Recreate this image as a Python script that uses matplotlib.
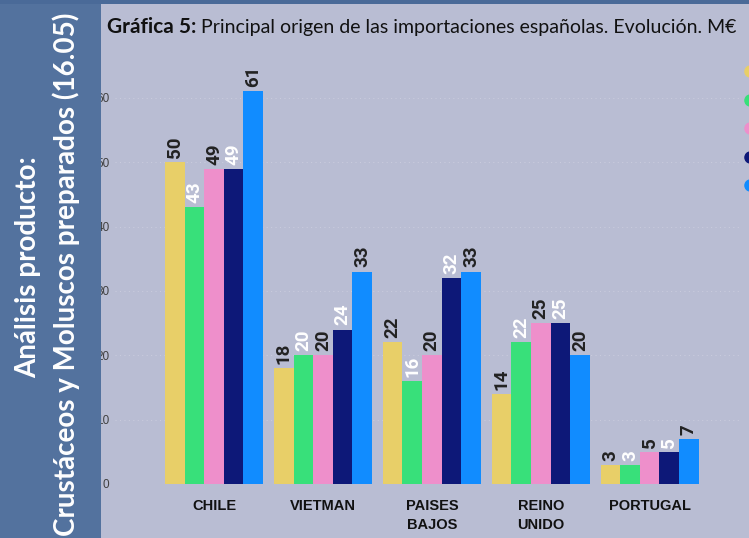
import matplotlib.pyplot as plt
import numpy as np
from matplotlib.lines import Line2D
from matplotlib.patches import Rectangle

countries = ['CHILE', 'VIETMAN', 'PAISES\nBAJOS', 'REINO\nUNIDO', 'PORTUGAL']
years = ['2019', '2020', '2021', '2022', '2023']
values = {
    '2019': [50, 18, 22, 14, 3],
    '2020': [43, 20, 16, 22, 3],
    '2021': [49, 20, 20, 25, 5],
    '2022': [49, 24, 32, 25, 5],
    '2023': [61, 33, 33, 20, 7],
}
y_ticks = [0, 10, 20, 30, 40, 50, 60]

colors = ['#E8CF68', '#38E07A', '#EE8FCB', '#0D1878', '#118CFF']
label_colors = ['#222222', 'white', '#222222', 'white', '#222222']
bg = '#B9BDD3'
panel = '#53729E'

W, H = 749, 538
fig = plt.figure(figsize=(W / 100, H / 100), dpi=100, facecolor=bg)


def px(x, y):
    # pixel coords (from top-left) -> figure fraction
    return x / W, 1 - y / H


ax = fig.add_axes([115 / W, (H - 484) / H, (740 - 115) / W, (484 - 40) / H])
ax.set_facecolor(bg)

n = len(years)
width = 0.9 / n
x = np.arange(len(countries))
for i, yr in enumerate(years):
    bars = ax.bar(x + (i - (n - 1) / 2) * width, values[yr], width,
                  color=colors[i], zorder=2)
    ax.bar_label(bars, labels=[str(v) for v in values[yr]], padding=3,
                 rotation=90, fontsize=13.5, fontweight='bold',
                 family='Roboto', color=label_colors[i])

ax.set_xlim(-0.91, 4.83)
ax.set_ylim(0, 69)
ax.set_yticks(y_ticks)
ax.set_yticklabels([str(t) for t in y_ticks], fontsize=8.5,
                   family='Liberation Sans', color='#404040')
ax.set_xticks(x)
ax.set_xticklabels(countries, fontsize=10.5, fontweight='bold',
                   family='Liberation Sans', color='#111111', linespacing=1.45)
ax.tick_params(axis='both', length=0)
ax.tick_params(axis='x', pad=11)
ax.tick_params(axis='y', pad=4)
ax.grid(axis='y', color='#C9CBDD', linestyle=(0, (1, 3)), linewidth=0.8, zorder=0)
for s in ax.spines.values():
    s.set_visible(False)

handles = [Line2D([], [], marker='o', linestyle='', markersize=8,
                  color=c) for c in colors]
fig.legend(handles, years, loc='upper left', bbox_to_anchor=px(736, 58),
           frameon=False, fontsize=10, labelspacing=1.05, handlelength=1,
           handletextpad=0.5, borderpad=0)

# left panel and top stripe
fig.patches.append(Rectangle((0, 0), 101 / W, 1, transform=fig.transFigure,
                             facecolor=panel, edgecolor='none', zorder=5))
fig.patches.append(Rectangle((0, 1 - 4 / H), 1, 4 / H, transform=fig.transFigure,
                             facecolor='#4A6A98', edgecolor='none', zorder=5))

fig.text(*px(28, 267), 'Análisis producto:', rotation=90, ha='center',
         va='center', color='white', fontsize=20, fontweight='bold',
         family='Lato', zorder=6)
fig.text(*px(66, 274), 'Crustáceos y Moluscos preparados (16.05)', rotation=90,
         ha='center', va='center', color='white', fontsize=20,
         fontweight='bold', family='Lato', zorder=6)

t1 = fig.text(*px(107, 33), 'Gráfica 5:', fontsize=15, fontweight='bold',
              family='Lato', color='#111111', va='baseline')
fig.canvas.draw()
bb = t1.get_window_extent()
fig.text((bb.x1 + 5) / W, 1 - 33 / H,
         'Principal origen de las importaciones españolas. Evolución. M€',
         fontsize=14, family='Lato', color='#111111', va='baseline')

fig.savefig('out.png', dpi=100, facecolor=bg)
